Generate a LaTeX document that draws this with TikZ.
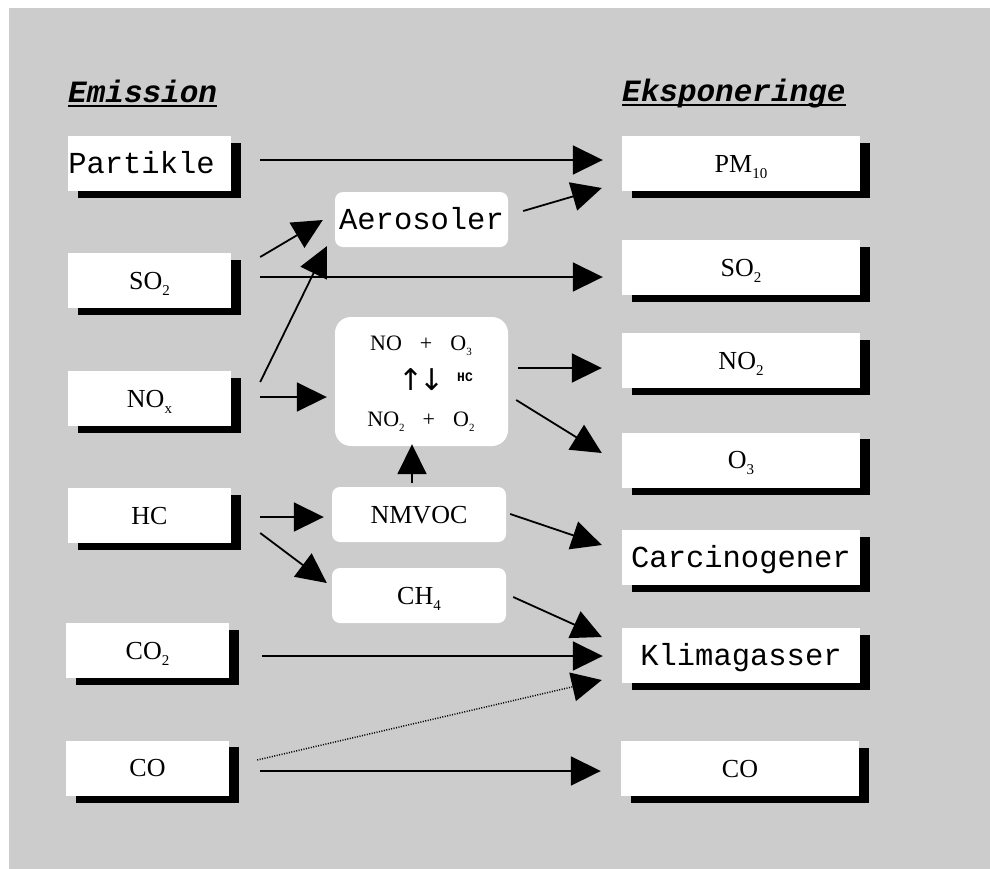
\documentclass[tikz,border=0pt]{standalone}
\usepackage{fontspec}
\setmainfont{Liberation Serif}
\newfontfamily\cour{Liberation Mono}
\newfontfamily\djv{DejaVu Sans}
\usetikzlibrary{arrows.meta,calc}
\definecolor{bggray}{HTML}{CCCCCC}
\pgfdeclarelayer{bglayer}
\pgfdeclarelayer{shadowlayer}
\pgfsetlayers{bglayer,shadowlayer,main}
\newcommand{\chsub}[1]{\raisebox{-6pt}{\fontsize{15pt}{15pt}\selectfont #1}}
\newcommand{\rxsub}[1]{\raisebox{-5pt}{\fontsize{11pt}{11pt}\selectfont #1}}
\tikzset{
 srcbox/.style={fill=white, minimum width=163pt, minimum height=55pt, inner sep=0pt},
 dstbox/.style={srcbox, minimum width=238pt},
 midbox/.style={fill=white, rounded corners=8pt, minimum width=173pt, minimum height=55pt, inner sep=0pt},
 courtext/.style={font=\cour\fontsize{30.5pt}{32pt}\selectfont, text height=20pt, text depth=0pt},
 chemtext/.style={font=\fontsize{26pt}{28pt}\selectfont, text height=17pt, text depth=0pt},
 rxtext/.style={font=\fontsize{22pt}{24pt}\selectfont, inner sep=0pt, anchor=base},
 arr/.style={line width=1.8pt, -{Triangle[length=30pt,width=29pt]}},
 heading/.style={font=\cour\bfseries\itshape\fontsize{31pt}{33pt}\selectfont, inner sep=0pt, anchor=base west},
 uline/.style={line width=2.5pt},
 boxshadow/.style={fill=black},
}
\begin{document}
\begin{tikzpicture}[x=1pt,y=-1pt]
\useasboundingbox (0,0) rectangle (990,868);
\begin{pgfonlayer}{bglayer}
\fill[bggray] (9,8) rectangle (1030,900);
\end{pgfonlayer}
% headings
\node[heading] (hE) at (68,102) {Emission};
\node[heading] (hK) at (622,101) {Eksponeringe};
\draw[uline] ($(hE.base west)+(0,4)$) -- ($(hE.base east)+(0,4)$);
\draw[uline] ($(hK.base west)+(0,4)$) -- ($(hK.base east)+(0,4)$);
% emission boxes
\node[srcbox,courtext] (l1) at (149.5,163.5) {Partikle\hspace*{16pt}};
\node[srcbox,chemtext] (l2) at (149.5,280.5) {SO\chsub{2}};
\node[srcbox,chemtext] (l3) at (149.5,398.5) {NO\chsub{x}};
\node[srcbox,chemtext] (l4) at (149.5,515.5) {HC};
\node[srcbox,chemtext] (l5) at (147.5,650.5) {CO\chsub{2}};
\node[srcbox,chemtext] (l6) at (147.5,768) {CO};
% exposure boxes
\node[dstbox,chemtext] (r1) at (741,163.5) {PM\chsub{10}};
\node[dstbox,chemtext] (r2) at (741,267.5) {SO\chsub{2}};
\node[dstbox,chemtext] (r3) at (741,360.5) {NO\chsub{2}};
\node[dstbox,chemtext] (r4) at (741,460) {O\chsub{3}};
\node[dstbox,courtext] (r5) at (741,557.5) {Carcinogener};
\node[dstbox,courtext] (r6) at (741,655.5) {Klimagasser};
\node[dstbox,chemtext] (r7) at (740,768.5) {CO};
% shadows
\begin{pgfonlayer}{shadowlayer}
\foreach \n in {l1,l2,l3,l4,l5,l6,r1,r2,r3,r4,r5,r6,r7}
  \fill[boxshadow] ($(\n.south west)+(10,7)$) rectangle ($(\n.north east)+(10,7)$);
\end{pgfonlayer}
% middle boxes
\node[midbox,courtext] (m1) at (421.5,219.5) {Aerosoler};
\node[midbox,minimum height=129pt,rounded corners=16pt] (m2) at (421.5,381.5) {};
\node[midbox,chemtext,minimum width=174pt] (m3) at (419,514.5) {NMVOC};
\node[midbox,chemtext,minimum width=174pt] (m4) at (419,595.5) {CH\chsub{4}};
% reaction text
\node[rxtext] (t1) at (421,350) {NO\hspace{18pt}+\hspace{18pt}O\rxsub{3}};
\node[rxtext] (t2) at (421,426) {NO\rxsub{2}\hspace{18pt}+\hspace{18pt}O\rxsub{2}};
\node[inner sep=0pt,font=\djv\fontsize{30pt}{30pt}\selectfont] (t3) at (421.5,380) {↑\kern-4pt↓};
\node[inner sep=0pt,font=\cour\bfseries\fontsize{13pt}{13pt}\selectfont] (t4) at (465,377) {HC};
% arrows
\draw[arr] ($(l1.east)+(29,-3.5)$) -- ($(r1.west)+(-19,-3.5)$);
\draw[arr] ($(l2.east)+(29,-23.5)$) -- ($(m1.west)+(-12,0.5)$);
\draw[arr] ($(l3.east)+(29,-16.5)$) -- ($(m1.south west)+(-8,-1)$);
\draw[arr] ($(l2.east)+(29,-3.5)$) -- ($(r2.west)+(-19,9.5)$);
\draw[arr] ($(m1.east)+(15,-8.5)$) -- ($(r1.west)+(-20,24.5)$);
\draw[arr] ($(l3.east)+(29,-1.5)$) -- ($(m2.west)+(-8,15.5)$);
\draw[arr] ($(m2.east)+(10,-13.5)$) -- ($(r3.west)+(-20,7.5)$);
\draw[arr] ($(m2.east)+(8,18.5)$) -- ($(r4.west)+(-20,-7)$);
\draw[arr] ($(m3.north)+(-7,-4)$) -- ($(m2.south)+(-9.5,-2)$);
\draw[arr] ($(l4.east)+(29,1.5)$) -- ($(m3.west)+(-8,2.5)$);
\draw[arr] ($(l4.east)+(29,17.5)$) -- ($(m4.west)+(-5,-12.5)$);
\draw[arr] ($(m3.east)+(4,-0.5)$) -- ($(r5.west)+(-20,-12.5)$);
\draw[arr] ($(m4.east)+(7,1.5)$) -- ($(r6.west)+(-20,-18.5)$);
\draw[arr] ($(l5.east)+(33,5.5)$) -- ($(r6.west)+(-19,0.5)$);
\draw[arr, line width=1.5pt, dash pattern=on 1pt off 1.5pt] ($(l6.east)+(28,-8)$) -- ($(r6.west)+(-20,24.5)$);
\draw[arr] ($(l6.east)+(31,3)$) -- ($(r7.west)+(-20,2.5)$);
\end{tikzpicture}
\end{document}
